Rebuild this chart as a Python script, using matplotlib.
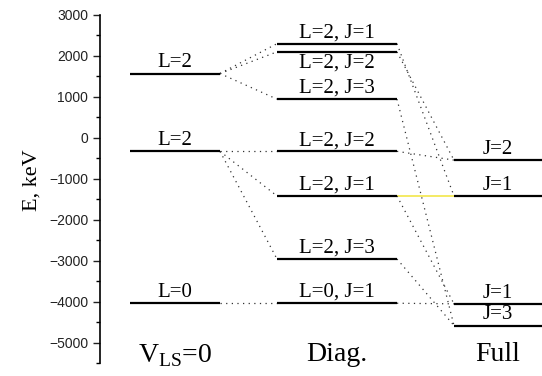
import matplotlib.pyplot as plt
from matplotlib.ticker import MultipleLocator

# energy levels, keV
vls_E = [1570, -330, -4040]
vls_lab = ["L=2", "L=2", "L=0"]

diag_E = [2300, 2100, 945, -330, -1420, -2960, -4040]
diag_lab = ["L=2, J=1", "L=2, J=2", "L=2, J=3", "L=2, J=2",
            "L=2, J=1", "L=2, J=3", "L=0, J=1"]

full_E = [-545, -1420, -4055, -4585]
full_lab = ["J=2", "J=1", "J=1", "J=3"]

# (from index, to index) links
vls_to_diag = [(0, 0), (0, 1), (0, 2), (1, 3), (1, 4), (1, 5), (2, 6)]
diag_to_full = [(0, 1), (1, 0), (2, 3), (3, 0), (4, 1), (4, 2), (5, 3), (6, 2)]

col_names = [r"V$_{\rm LS}$=0", "Diag.", "Full"]

# column extents (x layout)
cols = [(30, 120), (177, 297), (354, 442)]

plt.rcParams['mathtext.fontset'] = 'custom'
plt.rcParams['mathtext.rm'] = 'Liberation Serif'
serif = 'Liberation Serif'

fig = plt.figure(figsize=(5.42, 3.76), dpi=100)
ax = fig.add_axes([100/542, 13/376, 442/542, 348/376])

groups = [(vls_E, vls_lab), (diag_E, diag_lab), (full_E, full_lab)]
for (x0, x1), (E, labs) in zip(cols, groups):
    for e, lab in zip(E, labs):
        ax.plot([x0, x1], [e, e], color='black', lw=1.6, solid_capstyle='butt', zorder=3)

# labels above lines (one below for the close doublet)
for (x0, x1), (E, labs) in zip(cols, groups):
    xc = (x0 + x1) / 2
    for i, (e, lab) in enumerate(zip(E, labs)):
        if labs is diag_lab and i == 1:
            ax.text(xc, e - 50, lab, ha='center', va='top', fontsize=15, family=serif)
        else:
            ax.text(xc, e + 30, lab, ha='center', va='bottom', fontsize=15, family=serif)

dots = dict(color='#333333', lw=0.9, ls=(0, (1, 3.5)))
for a, b in vls_to_diag:
    ax.plot([cols[0][1], cols[1][0]], [vls_E[a], diag_E[b]], **dots)
for a, b in diag_to_full:
    if diag_E[a] == full_E[b]:
        ax.plot([cols[1][1], cols[2][0]], [diag_E[a], full_E[b]], color='#f2e64a', lw=1.2)
    else:
        ax.plot([cols[1][1], cols[2][0]], [diag_E[a], full_E[b]], **dots)

for (x0, x1), name in zip(cols, col_names):
    ax.text((x0 + x1) / 2, -4990, name, ha='center', va='top', fontsize=20, family=serif)

ax.set_xlim(0, 442)
ax.set_ylim(-5500, 3000)
ax.yaxis.set_major_locator(MultipleLocator(1000))
ax.yaxis.set_minor_locator(MultipleLocator(500))
ax.tick_params(axis='y', which='major', length=5, width=1, labelsize=10,
               direction='out', colors='#222222')
ax.tick_params(axis='y', which='minor', length=3, width=1, direction='out')
for lab in ax.get_yticklabels():
    lab.set_family('Liberation Sans')
ax.set_xticks([])
for s in ['top', 'right', 'bottom']:
    ax.spines[s].set_visible(False)
ax.spines['left'].set_linewidth(1.2)
ax.set_ylabel("E, keV", fontsize=16, family=serif)
ax.yaxis.set_label_coords(-0.133, 0.525)

fig.savefig("out.png", dpi=100)
